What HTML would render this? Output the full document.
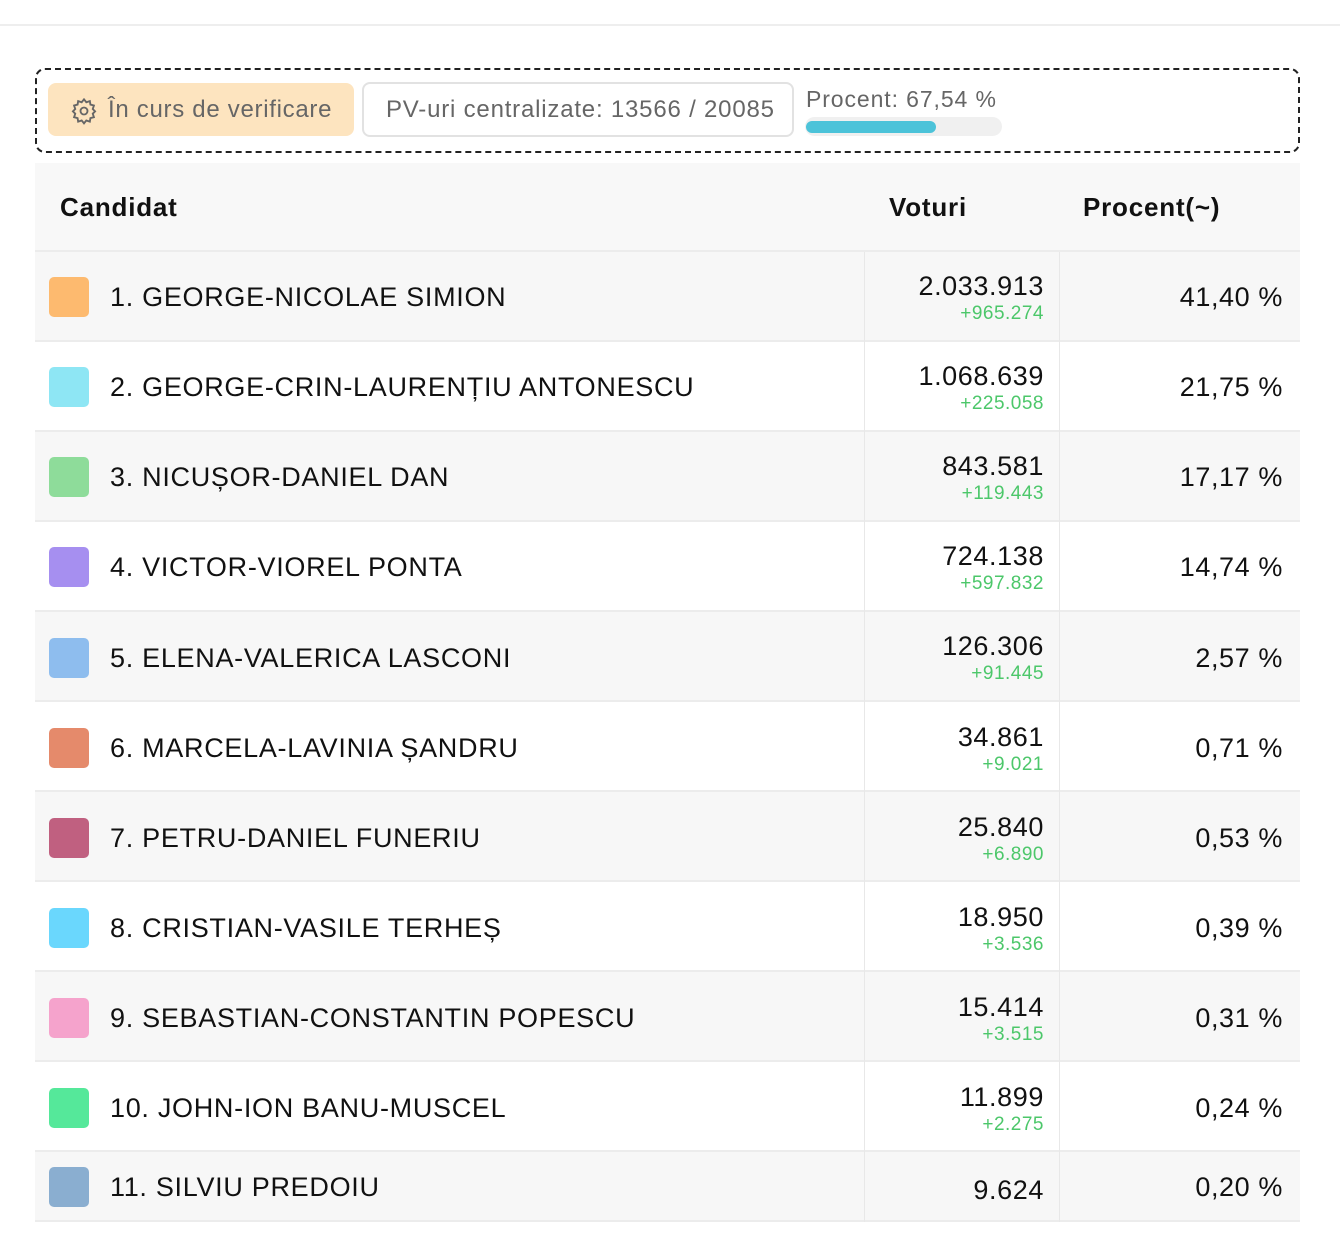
<!DOCTYPE html>
<html><head><meta charset="utf-8"><style>
*{margin:0;padding:0;box-sizing:border-box}
body{width:1340px;height:1246px;background:#fff;font-family:"Liberation Sans",sans-serif;position:relative;overflow:hidden;color:#111}
.a{position:absolute}
.topline{left:0;top:24px;width:1340px;height:2px;background:#eeeeee}
.dash{left:35px;top:68px;width:1265px;height:85px;border:2px dashed #222;border-radius:10px}
.b1{left:48px;top:83px;width:306px;height:53px;background:#fde4bf;border-radius:8px;color:#666;font-size:24px;line-height:53px;padding-left:60px;letter-spacing:0.7px}
.b2{left:362px;top:82px;width:432px;height:55px;border:2px solid #e2e2e2;border-radius:8px;color:#666;font-size:24px;line-height:51px;padding-left:22px;letter-spacing:0.8px}
.pt{left:806px;top:86px;color:#666;font-size:23px;letter-spacing:0.9px}
.bar{left:805px;top:117px;width:197px;height:19px;background:#f0f0f0;border-radius:10px}
.fill{left:806px;top:121px;width:130px;height:12px;background:#4cc3d9;border-radius:6px}
.hdr{left:35px;top:163px;width:1265px;height:89px;background:#f8f8f8;border-bottom:2px solid #ececec}
.h{font-weight:bold;font-size:26px;top:192px;letter-spacing:0.8px}
.row{left:35px;width:1265px;border-bottom:2px solid #ececec}
.vl{width:1px;background:#e8e8e8}
.sw{left:49px;width:40px;height:40px;border-radius:5px}
.nm{left:110px;font-size:27px;line-height:30px;letter-spacing:0.7px}
.v{right:296px;font-size:27px;text-align:right;line-height:30px;letter-spacing:0.6px}
.c{right:296px;font-size:19px;color:#4cc76a;text-align:right;line-height:20px;letter-spacing:0.5px}
.p{right:57px;font-size:27px;text-align:right;line-height:30px;letter-spacing:0.6px}
</style></head><body>
<div class="a topline"></div>
<div class="a dash"></div>
<div class="a b1">În curs de verificare</div>
<svg class="a" style="left:70px;top:97px" width="28" height="28" viewBox="0 0 24 24" fill="none" stroke="#666" stroke-width="1.6"><circle cx="12" cy="12" r="3"/><path d="M12 2l2 2.5 3-1 .5 3 3 .8-1 3 2 2-2 2 1 3-3 .8-.5 3-3-1-2 2.5-2-2.5-3 1-.5-3-3-.8 1-3-2-2 2-2-1-3 3-.8.5-3 3 1z"/></svg>
<div class="a b2">PV-uri centralizate: 13566 / 20085</div>
<div class="a pt">Procent: 67,54 %</div>
<div class="a bar"></div><div class="a fill"></div>
<div class="a hdr"></div>
<div class="a h" style="left:60px">Candidat</div>
<div class="a h" style="left:889px">Voturi</div>
<div class="a h" style="left:1083px">Procent(~)</div>

<div class="a row" style="top:252px;height:90px;background:#f7f7f7"></div>
<div class="a row" style="top:342px;height:90px;background:#fff"></div>
<div class="a row" style="top:432px;height:90px;background:#f7f7f7"></div>
<div class="a row" style="top:522px;height:90px;background:#fff"></div>
<div class="a row" style="top:612px;height:90px;background:#f7f7f7"></div>
<div class="a row" style="top:702px;height:90px;background:#fff"></div>
<div class="a row" style="top:792px;height:90px;background:#f7f7f7"></div>
<div class="a row" style="top:882px;height:90px;background:#fff"></div>
<div class="a row" style="top:972px;height:90px;background:#f7f7f7"></div>
<div class="a row" style="top:1062px;height:90px;background:#fff"></div>
<div class="a row" style="top:1152px;height:70px;background:#f7f7f7"></div>
<div class="a vl" style="left:864px;top:252px;height:970px"></div>
<div class="a vl" style="left:1059px;top:252px;height:970px"></div>

<div class="a sw" style="top:277px;background:#fdba6f"></div><div class="a nm" style="top:282px">1. GEORGE-NICOLAE SIMION</div><div class="a v" style="top:271px">2.033.913</div><div class="a c" style="top:304px">+965.274</div><div class="a p" style="top:282px">41,40 %</div>
<div class="a sw" style="top:367px;background:#8ee6f4"></div><div class="a nm" style="top:372px">2. GEORGE-CRIN-LAURENȚIU ANTONESCU</div><div class="a v" style="top:361px">1.068.639</div><div class="a c" style="top:394px">+225.058</div><div class="a p" style="top:372px">21,75 %</div>
<div class="a sw" style="top:457px;background:#8edc9a"></div><div class="a nm" style="top:462px">3. NICUȘOR-DANIEL DAN</div><div class="a v" style="top:451px">843.581</div><div class="a c" style="top:484px">+119.443</div><div class="a p" style="top:462px">17,17 %</div>
<div class="a sw" style="top:547px;background:#a68ff0"></div><div class="a nm" style="top:552px">4. VICTOR-VIOREL PONTA</div><div class="a v" style="top:541px">724.138</div><div class="a c" style="top:574px">+597.832</div><div class="a p" style="top:552px">14,74 %</div>
<div class="a sw" style="top:638px;background:#8ebdee"></div><div class="a nm" style="top:643px">5. ELENA-VALERICA LASCONI</div><div class="a v" style="top:631px">126.306</div><div class="a c" style="top:664px">+91.445</div><div class="a p" style="top:643px">2,57 %</div>
<div class="a sw" style="top:728px;background:#e58a6b"></div><div class="a nm" style="top:733px">6. MARCELA-LAVINIA ȘANDRU</div><div class="a v" style="top:722px">34.861</div><div class="a c" style="top:755px">+9.021</div><div class="a p" style="top:733px">0,71 %</div>
<div class="a sw" style="top:818px;background:#c06080"></div><div class="a nm" style="top:823px">7. PETRU-DANIEL FUNERIU</div><div class="a v" style="top:812px">25.840</div><div class="a c" style="top:845px">+6.890</div><div class="a p" style="top:823px">0,53 %</div>
<div class="a sw" style="top:908px;background:#6ad7fd"></div><div class="a nm" style="top:913px">8. CRISTIAN-VASILE TERHEȘ</div><div class="a v" style="top:902px">18.950</div><div class="a c" style="top:935px">+3.536</div><div class="a p" style="top:913px">0,39 %</div>
<div class="a sw" style="top:998px;background:#f5a3cc"></div><div class="a nm" style="top:1003px">9. SEBASTIAN-CONSTANTIN POPESCU</div><div class="a v" style="top:992px">15.414</div><div class="a c" style="top:1025px">+3.515</div><div class="a p" style="top:1003px">0,31 %</div>
<div class="a sw" style="top:1088px;background:#55e89a"></div><div class="a nm" style="top:1093px">10. JOHN-ION BANU-MUSCEL</div><div class="a v" style="top:1082px">11.899</div><div class="a c" style="top:1115px">+2.275</div><div class="a p" style="top:1093px">0,24 %</div>
<div class="a sw" style="top:1167px;background:#8aaed0"></div><div class="a nm" style="top:1172px">11. SILVIU PREDOIU</div><div class="a v" style="top:1175px">9.624</div><div class="a p" style="top:1172px">0,20 %</div>
</body></html>
